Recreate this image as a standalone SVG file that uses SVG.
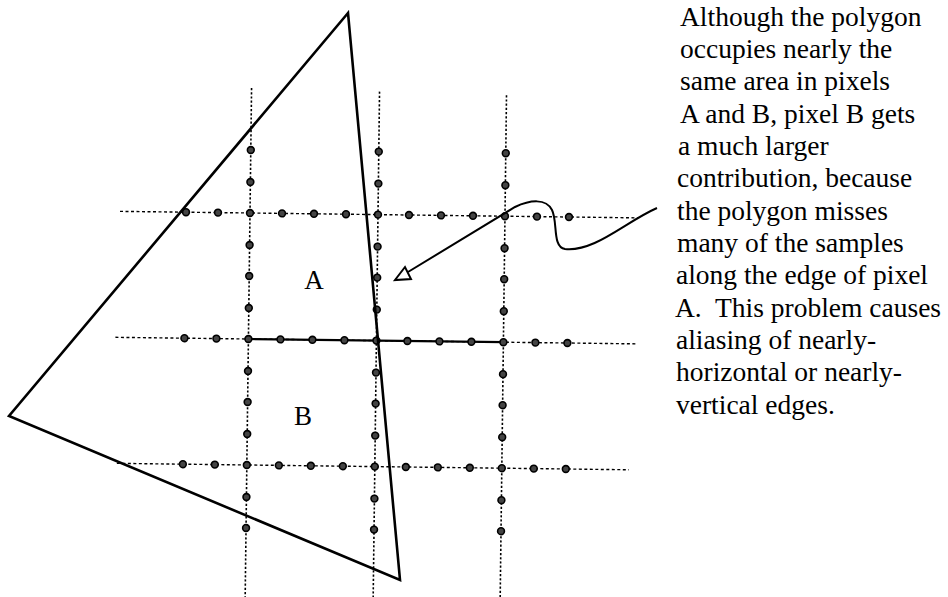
<svg xmlns="http://www.w3.org/2000/svg" xmlns:xlink="http://www.w3.org/1999/xlink" width="948" height="597" viewBox="0 0 948 597">
<style>
.hl{stroke:#000;stroke-width:1.4;stroke-dasharray:3 2.5;fill:none}
.vl{stroke:#000;stroke-width:1.6;stroke-dasharray:2.2 2;fill:none}
.solid{stroke:#000;stroke-width:2.2;fill:none}
.poly{stroke:#000;stroke-width:2.6;fill:none;stroke-linejoin:miter}
.lbl{font-family:"Liberation Serif","Times New Roman",serif;font-size:27px;fill:#000}
.cap{font-family:"Liberation Serif","Times New Roman",serif;font-size:27.5px;fill:#000;white-space:pre}
</style>
<defs>
<circle id="s" r="3.4" fill="#444" stroke="#000" stroke-width="1.6"/>
</defs>
<rect width="948" height="597" fill="#fff"/>
<g id="grid" transform="rotate(0.72 250 213)">
<line class="hl" x1="120" y1="213" x2="638" y2="213"/>
<line class="hl" x1="117" y1="339" x2="637" y2="339"/>
<line class="solid" x1="250" y1="339" x2="505" y2="339"/>
<line class="hl" x1="120" y1="465" x2="632" y2="465"/>
<line class="vl" x1="250" y1="88" x2="250" y2="600"/>
<line class="vl" x1="378" y1="90" x2="378" y2="600"/>
<line class="vl" x1="505" y1="92" x2="505" y2="600"/>
<g id="samples">
<use xlink:href="#s" x="186" y="213"/><use xlink:href="#s" x="218" y="213"/><use xlink:href="#s" x="250" y="213"/><use xlink:href="#s" x="282" y="213"/><use xlink:href="#s" x="314" y="213"/><use xlink:href="#s" x="346" y="213"/><use xlink:href="#s" x="378" y="213"/><use xlink:href="#s" x="409" y="213"/><use xlink:href="#s" x="441" y="213"/><use xlink:href="#s" x="473" y="213"/><use xlink:href="#s" x="505" y="213"/><use xlink:href="#s" x="537" y="213"/><use xlink:href="#s" x="569" y="213"/>
<use xlink:href="#s" x="186" y="339"/><use xlink:href="#s" x="218" y="339"/><use xlink:href="#s" x="250" y="339"/><use xlink:href="#s" x="282" y="339"/><use xlink:href="#s" x="314" y="339"/><use xlink:href="#s" x="346" y="339"/><use xlink:href="#s" x="378" y="339"/><use xlink:href="#s" x="409" y="339"/><use xlink:href="#s" x="441" y="339"/><use xlink:href="#s" x="473" y="339"/><use xlink:href="#s" x="505" y="339"/><use xlink:href="#s" x="537" y="339"/><use xlink:href="#s" x="569" y="339"/>
<use xlink:href="#s" x="186" y="465"/><use xlink:href="#s" x="218" y="465"/><use xlink:href="#s" x="250" y="465"/><use xlink:href="#s" x="282" y="465"/><use xlink:href="#s" x="314" y="465"/><use xlink:href="#s" x="346" y="465"/><use xlink:href="#s" x="378" y="465"/><use xlink:href="#s" x="409" y="465"/><use xlink:href="#s" x="441" y="465"/><use xlink:href="#s" x="473" y="465"/><use xlink:href="#s" x="505" y="465"/><use xlink:href="#s" x="537" y="465"/><use xlink:href="#s" x="569" y="465"/>
<use xlink:href="#s" x="250" y="150"/><use xlink:href="#s" x="250" y="182"/><use xlink:href="#s" x="250" y="245"/><use xlink:href="#s" x="250" y="276"/><use xlink:href="#s" x="250" y="308"/><use xlink:href="#s" x="250" y="371"/><use xlink:href="#s" x="250" y="402"/><use xlink:href="#s" x="250" y="434"/><use xlink:href="#s" x="250" y="497"/><use xlink:href="#s" x="250" y="528"/>
<use xlink:href="#s" x="378" y="150"/><use xlink:href="#s" x="378" y="182"/><use xlink:href="#s" x="378" y="245"/><use xlink:href="#s" x="378" y="276"/><use xlink:href="#s" x="378" y="308"/><use xlink:href="#s" x="378" y="371"/><use xlink:href="#s" x="378" y="402"/><use xlink:href="#s" x="378" y="434"/><use xlink:href="#s" x="378" y="497"/><use xlink:href="#s" x="378" y="528"/>
<use xlink:href="#s" x="505" y="150"/><use xlink:href="#s" x="505" y="182"/><use xlink:href="#s" x="505" y="245"/><use xlink:href="#s" x="505" y="276"/><use xlink:href="#s" x="505" y="308"/><use xlink:href="#s" x="505" y="371"/><use xlink:href="#s" x="505" y="402"/><use xlink:href="#s" x="505" y="434"/><use xlink:href="#s" x="505" y="497"/><use xlink:href="#s" x="505" y="528"/>
</g>
</g>
<g id="polygon">
<polygon class="poly" points="348,13 9,416 400,580"/>
</g>
<g id="pixel-A"><text class="lbl" x="314" y="289" text-anchor="middle">A</text></g>
<g id="pixel-B"><text class="lbl" x="303" y="425" text-anchor="middle">B</text></g>
<g id="connectors">
<path d="M657 208 C625 222 595 252 565 249 C552 247 558 222 552 210 C546 198 530 200 515 207 L408 272" fill="none" stroke="#000" stroke-width="2"/>
<polygon points="395,280 405,267 411,279" fill="#fff" stroke="#000" stroke-width="2" stroke-linejoin="miter"/>
</g>
<g id="caption">
<text class="cap" x="680" y="26">Although the polygon</text>
<text class="cap" x="680" y="58">occupies nearly the</text>
<text class="cap" x="680" y="90">same area in pixels</text>
<text class="cap" x="680" y="122.5">A and B, pixel B gets</text>
<text class="cap" x="678" y="155">a much larger</text>
<text class="cap" x="677" y="187">contribution, because</text>
<text class="cap" x="677" y="219.5">the polygon misses</text>
<text class="cap" x="677" y="252">many of the samples</text>
<text class="cap" x="676" y="284">along the edge of pixel</text>
<text class="cap" x="675" y="316.5">A.  This problem causes</text>
<text class="cap" x="676" y="349">aliasing of nearly-</text>
<text class="cap" x="676" y="381">horizontal or nearly-</text>
<text class="cap" x="676" y="413.5">vertical edges.</text>
</g>
</svg>
